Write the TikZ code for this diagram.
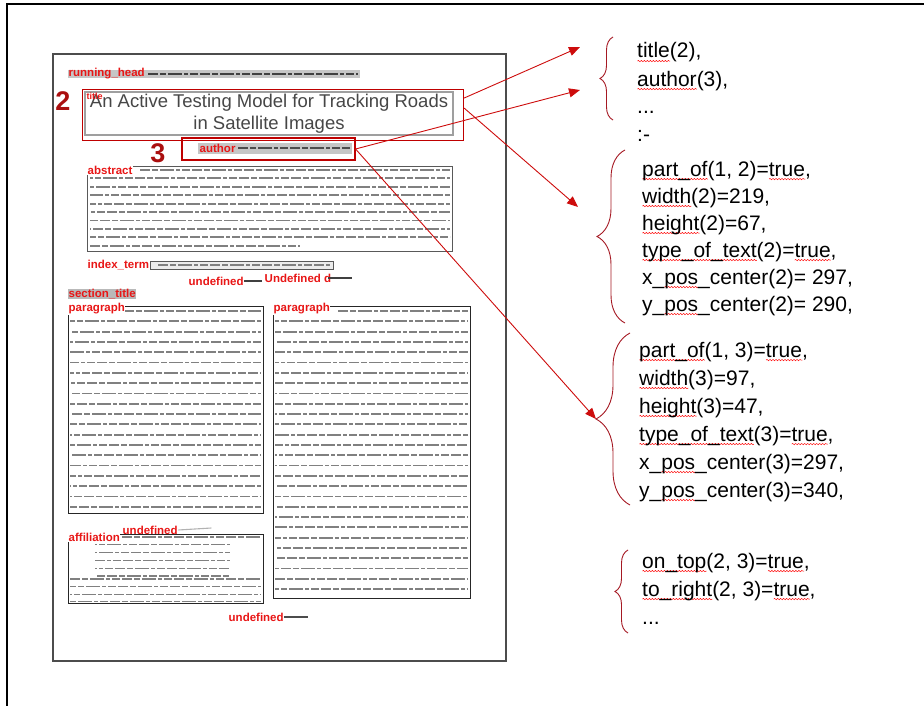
\documentclass[tikz,border=0pt]{standalone}
\usepackage{fontspec}
\setmainfont{Liberation Sans}
\usetikzlibrary{arrows.meta,decorations.pathreplacing,decorations.pathmorphing}

\definecolor{labred}{RGB}{232,22,22}
\definecolor{bracered}{RGB}{165,25,35}
\definecolor{arrowred}{RGB}{205,12,12}
\definecolor{numred}{RGB}{170,15,15}

% red wavy underline
\newsavebox\sqbox
\newcommand\sq[1]{\sbox\sqbox{#1}\rlap{\raisebox{-4pt}{\tikz\draw[red, line width=0.45pt, decorate, decoration={snake, amplitude=0.7pt, segment length=3pt}] (0,0) -- (\the\wd\sqbox,0);}}\usebox\sqbox}

\tikzset{
  lbl/.style={text=labred, font=\bfseries\fontsize{11.5}{12}\selectfont, inner sep=0.5pt},
  txtline/.style={line width=1.8pt, black!50,
    dash pattern=on 10pt off 2pt on 6pt off 2pt on 14pt off 2pt on 4pt off 2pt on 8pt off 2pt},
  facts/.style={anchor=base west, align=left, inner sep=0, font=\fontsize{21}{27}\selectfont},
  brc/.style={bracered, line width=0.9pt, decorate, decoration={brace, amplitude=#1}},
  link/.style={arrowred, line width=0.9pt, -{Triangle[length=11pt,width=9pt]}},
}

\begin{document}
\begin{tikzpicture}[x=1pt,y=-1pt]
\useasboundingbox (0,0) rectangle (924,706);
% frame and page
\draw[line width=2.5pt] (7,706) -- (7,4) -- (924,4);
\draw[line width=1.4pt, gray!60!black] (53,54) rectangle (506,661);

% running head
\fill[gray!45] (68,70) rectangle (360,78);
\draw[txtline, black!75, line width=1.4pt] (148,74) -- (358,74);
\node[lbl, anchor=west] (runhead) at (68,74) {running\_head};

% title
\node[draw=red!75!black, line width=1.1pt, minimum width=381, minimum height=51, anchor=north west] (titlebox) at (82,89) {};
\draw[gray!75, line width=1.4pt] (85,92) rectangle (453,135);
\node[text=gray!55!black, font=\fontsize{18.5}{22}\selectfont, align=center] (titletext) at (269,114) {An Active Testing Model for Tracking Roads\\in Satellite Images};
\node[lbl, anchor=north west, font=\bfseries\fontsize{9}{10}\selectfont] (titlelbl) at (86,92) {title};
\node[text=numred, font=\bfseries\fontsize{27}{28}\selectfont] (num2) at (63,101) {2};

% author
\node[draw=red!75!black, line width=1.1pt, minimum width=173, minimum height=22] (authorbox) at (268.5,149) {};
\fill[gray!45] (198,143) rectangle (352,154);
\draw[txtline, black!70, line width=1.4pt] (238,148) -- (350,148);
\node[lbl, anchor=west] (authorlbl) at (199,148) {author};
\node[text=numred, font=\bfseries\fontsize{27}{28}\selectfont] (num3) at (158,153) {3};

% abstract
\draw[gray!70!black, line width=1pt] (87,167) rectangle (452,251);
\draw[txtline] (140,170) -- (450,170);
\foreach \i in {1,...,8}
  \draw[txtline, dash phase=\i*7pt] (90,{170+8.4*\i}) -- (450,{170+8.4*\i});
\draw[txtline] (90,246) -- (300,246);
\node[lbl, anchor=west, fill=white] (abstractlbl) at (87,170) {abstract};

% index term
\draw[gray!70!black, line width=0.8pt, fill=gray!15] (150,261) rectangle (333,269);
\draw[txtline, line width=1.2pt] (158,265) -- (330,265);
\node[lbl, anchor=west] (indexlbl) at (87,265) {index\_term};

\node[lbl, anchor=west] (undefa) at (188,281) {undefined};
\draw[black!75, line width=1.1pt] (undefa.east) -- ++(18,0);
\node[lbl, anchor=west] (undefb) at (264,278) {Undefined d};
\draw[black!75, line width=1.1pt] ([xshift=-4pt]undefb.east) -- ++(24,0);

% section title
\node[lbl, anchor=west, fill=gray!55] (sectlbl) at (68,294) {section\_title};

% left paragraph
\draw[gray!30!black, line width=1pt] (68,306) rectangle (263,513);
\draw[txtline] (124,311) -- (261,311);
\foreach \i in {1,...,19}
  \draw[txtline, dash phase=\i*5pt] (70,{311+10.3*\i}) -- (261,{311+10.3*\i});
\node[lbl, anchor=west, fill=white] (paralbla) at (68,309) {paragraph};

% right paragraph
\draw[gray!30!black, line width=1pt] (273,306) rectangle (470,598);
\draw[txtline] (338,311) -- (468,311);
\foreach \i in {1,...,27}
  \draw[txtline, dash phase=\i*6pt] (275,{311+10.3*\i}) -- (468,{311+10.3*\i});
\node[lbl, anchor=west, fill=white] (paralblb) at (273,309) {paragraph};

% affiliation
\node[lbl, anchor=west] (undefc) at (122,530) {undefined};
\draw[gray!60, line width=1.1pt] (undefc.east) -- ++(33,-2);
\draw[gray!30!black, line width=1pt] (68,534) rectangle (263,603);
\draw[txtline, line width=1.3pt] (122,537) -- (261,537);
\foreach \i in {1,...,5}
  \draw[txtline, line width=1.3pt, dash phase=\i*8pt] (95,{537+7.8*\i}) -- (230,{537+7.8*\i});
\foreach \i in {0,...,3}
  \draw[txtline, line width=1.3pt, dash phase=\i*4pt] (70,{579+7.6*\i}) -- (261,{579+7.6*\i});
\node[lbl, anchor=west, fill=white] (afflbl) at (68,537) {affiliation};

\node[lbl, anchor=west] (undefd) at (228,617) {undefined};
\draw[black!70, line width=2.5pt] (undefd.east) -- ++(24,0);

% clause text (placed by the baseline of the last line)
\node[facts, font=\fontsize{21}{28}\selectfont] (head) at (637,114) {\sq{title}(2),\\\sq{author}(3),\\...};
\node[facts] (neck) at (637,142) {:-};
\node[facts] (body2) at (642,311) {\sq{part\_of}(1, 2)=\sq{true},\\\sq{width}(2)=219,\\\sq{height}(2)=67,\\\sq{type\_of\_text}(2)=\sq{true},\\x\_\sq{pos}\_center(2)= 297,\\y\_\sq{pos}\_center(2)= 290,};
\node[facts, font=\fontsize{21}{28}\selectfont] (body3) at (639,497) {\sq{part\_of}(1, 3)=\sq{true},\\\sq{width}(3)=97,\\\sq{height}(3)=47,\\\sq{type\_of\_text}(3)=\sq{true},\\x\_\sq{pos}\_center(3)=297,\\y\_\sq{pos}\_center(3)=340,};
\node[facts, font=\fontsize{21}{28}\selectfont] (rel) at (642,624) {\sq{on\_top}(2, 3)=\sq{true},\\\sq{to\_right}(2, 3)=\sq{true},\\...};

% braces
\draw[brc=13pt] (613,120) -- (613,37);
\draw[brc=28pt] (625,323) -- (625,150);
\draw[brc=34pt] (630,505) -- (630,333);
\draw[brc=13pt] (628,633) -- (628,550);

% arrows
\coordinate (e1) at (580,47);
\coordinate (e2) at (580,90);
\coordinate (e3) at (578,207);
\coordinate (e4) at (596,419);
\draw[link] ([yshift=17pt]titlebox.east) -- (e1);
\draw[link] (authorbox.east) -- (e2);
\draw[link] ([yshift=7pt]titlebox.east) -- (e3);
\draw[link] (authorbox.east) -- (e4);
\end{tikzpicture}
\end{document}
